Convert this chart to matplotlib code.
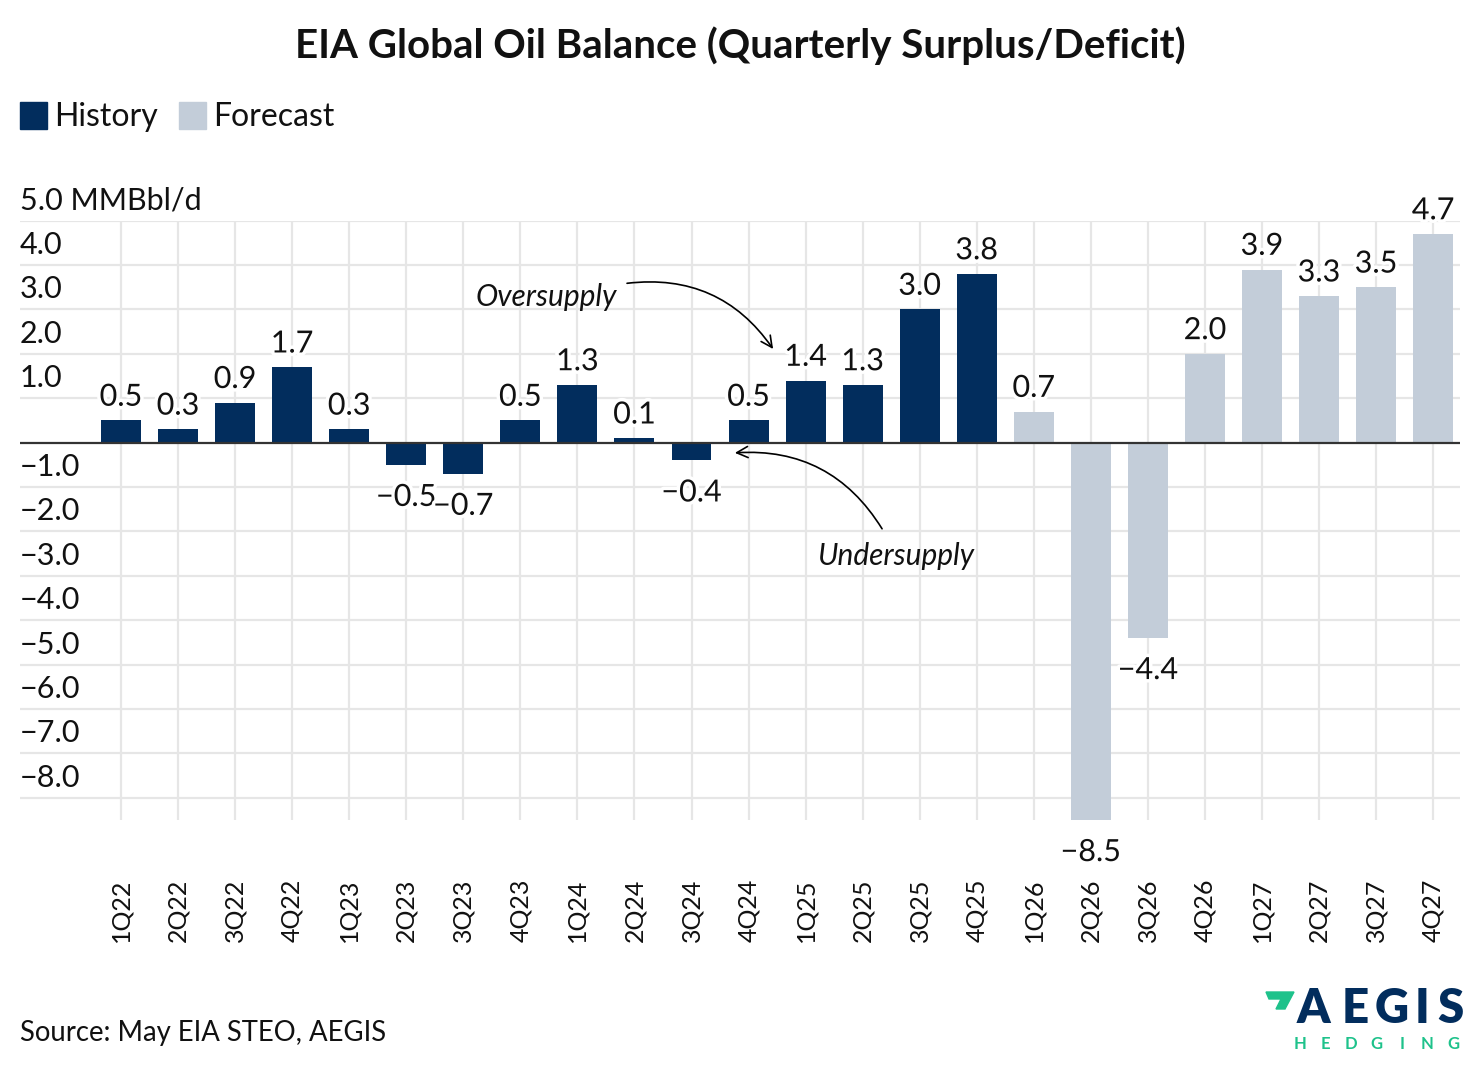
import matplotlib
matplotlib.use('Agg')
import matplotlib.pyplot as plt
import matplotlib.transforms as mtransforms
import matplotlib.patheffects as pe
from matplotlib.patches import Rectangle, Polygon

plt.rcParams['font.family'] = ['Lato', 'DejaVu Sans']

# ---------------- data ----------------
quarters = ['1Q22', '2Q22', '3Q22', '4Q22', '1Q23', '2Q23', '3Q23', '4Q23',
            '1Q24', '2Q24', '3Q24', '4Q24', '1Q25', '2Q25', '3Q25', '4Q25',
            '1Q26', '2Q26', '3Q26', '4Q26', '1Q27', '2Q27', '3Q27', '4Q27']
balance = [0.5, 0.3, 0.9, 1.7, 0.3, -0.5, -0.7, 0.5,
           1.3, 0.1, -0.4, 0.5, 1.4, 1.3, 3.0, 3.8,
           0.7, -8.5, -4.4, 2.0, 3.9, 3.3, 3.5, 4.7]
series = ['History'] * 16 + ['Forecast'] * 8
y_ticks = [5, 4, 3, 2, 1, -1, -2, -3, -4, -5, -6, -7, -8]
y_unit = 'MMBbl/d'

title = 'EIA Global Oil Balance (Quarterly Surplus/Deficit)'
source = 'Source: May EIA STEO, AEGIS'

colors = {'History': '#022d5d', 'Forecast': '#c3cdd9'}
TXT = '#111111'
GRID = '#e6e6e6'

W, H = 1480, 1070
fig = plt.figure(figsize=(W / 100, H / 100), dpi=100)


def fx(px):
    return px / W


def fy(py):
    return 1 - py / H


ax = fig.add_axes([fx(20), fy(820), fx(1440), (820 - 220.7) / H])
ax.set_xlim(-1.77, 23.47)
ax.set_ylim(-8.5, 5.0)
for s in ax.spines.values():
    s.set_visible(False)
ax.set_yticks([])

xs = list(range(len(quarters)))
# gridlines
for yv in y_ticks:
    ax.axhline(yv, color=GRID, lw=1.6, zorder=0)
for xv in xs:
    ax.axvline(xv, color=GRID, lw=1.6, zorder=0)
ax.axhline(0, color='#333333', lw=1.6, zorder=4)

bar_colors = [colors[s] for s in series]
ax.bar(xs, balance, width=0.7, color=bar_colors, zorder=3)

# y labels above gridlines
ylab_tr = mtransforms.offset_copy(
    mtransforms.blended_transform_factory(ax.transAxes, ax.transData),
    fig=fig, x=0, y=6, units='dots')
for yv in y_ticks:
    lab = f'{yv:.1f}'.replace('-', '\u2212')
    if yv == y_ticks[0]:
        lab = f'{lab} {y_unit}'
    ax.text(0, yv, lab, transform=ylab_tr, ha='left', va='bottom',
            fontsize=22, color=TXT)

# value labels
stroke = [pe.withStroke(linewidth=5, foreground='white')]
for x, v in zip(xs, balance):
    lab = f'{v:.1f}'.replace('-', '\u2212')
    if v >= 0:
        ax.annotate(lab, (x, v), xytext=(0, 7), textcoords='offset points',
                    ha='center', va='bottom', fontsize=22, color=TXT,
                    zorder=5, path_effects=stroke)
    else:
        ax.annotate(lab, (x, v), xytext=(0, -13), textcoords='offset points',
                    ha='center', va='top', fontsize=22, color=TXT,
                    zorder=5, path_effects=stroke)

# x tick labels
ax.set_xticks(xs)
ax.set_xticklabels(quarters, rotation=90, fontsize=18, color=TXT)
ax.tick_params(axis='x', length=0, pad=42)

# annotations
ax.annotate('', xy=(11.43, 2.11), xytext=(8.87, 3.59),
            arrowprops=dict(arrowstyle='->', connectionstyle='arc3,rad=-0.3',
                            color='black', lw=1.2, shrinkA=0, shrinkB=0,
                            mutation_scale=20), zorder=6)
ax.text(8.70, 3.29, 'Oversupply', ha='right', va='center', fontsize=21.5,
        style='italic', color=TXT, zorder=6)
ax.annotate('', xy=(10.76, -0.23), xytext=(13.34, -1.94),
            arrowprops=dict(arrowstyle='->', connectionstyle='arc3,rad=0.3',
                            color='black', lw=1.2, shrinkA=0, shrinkB=0,
                            mutation_scale=20), zorder=6)
ax.text(13.60, -2.56, 'Undersupply', ha='center', va='center', fontsize=21.5,
        style='italic', color=TXT, zorder=6)

# title
fig.text(0.5, fy(46), title, ha='center', va='center', fontsize=29,
         fontweight='bold', color=TXT)

# legend
lx = 20
for name in ['History', 'Forecast']:
    fig.patches.append(Rectangle((fx(lx), fy(129)), fx(27), 27 / H,
                                 transform=fig.transFigure, color=colors[name]))
    t = fig.text(fx(lx + 34), fy(117), name, ha='left', va='center',
                 fontsize=23, color=TXT)
    fig.canvas.draw()
    bb = t.get_window_extent()
    lx = bb.x1 + 21

# source
fig.text(fx(20), fy(1033), source, ha='left', va='center', fontsize=19.8, color=TXT)

# logo
green = '#1ec28b'
logo_pts = [(1266, 992), (1294, 992), (1285, 1009), (1276, 1009),
            (1281, 999), (1269, 999)]
fig.patches.append(Polygon([(fx(a), fy(b)) for a, b in logo_pts], closed=True,
                           transform=fig.transFigure, color=green))
for cx, ch in zip([1313, 1355, 1392, 1422, 1450], 'AEGIS'):
    fig.text(fx(cx), fy(1009), ch, ha='center', va='center', fontsize=34,
             fontweight='heavy', color='#022d5d')
for i, ch in enumerate('HEDGING'):
    fig.text(fx(1300 + i * 25.5), fy(1044), ch, ha='center', va='center',
             fontsize=12, fontweight='bold', color=green)

fig.savefig('out.png', dpi=100)
